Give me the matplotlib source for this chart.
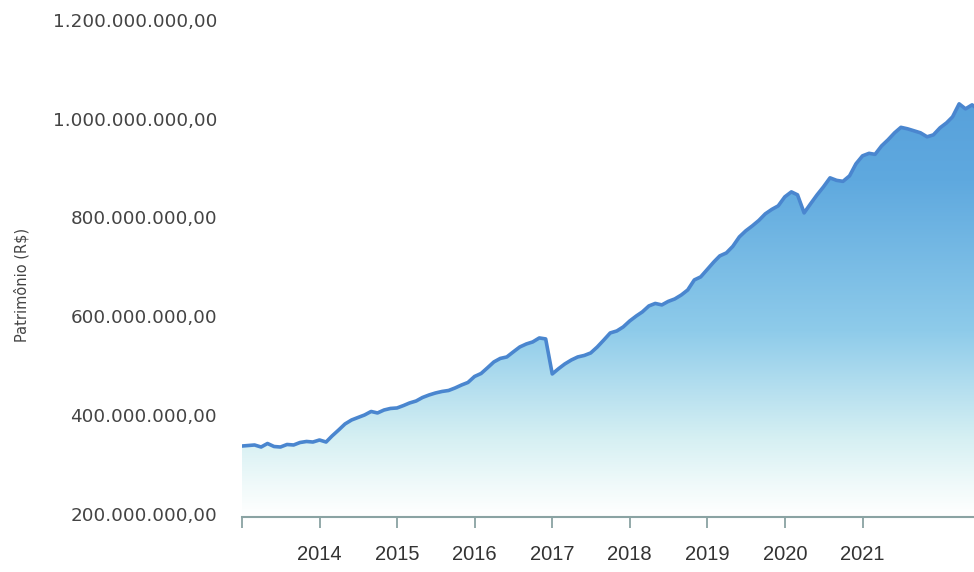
import matplotlib
matplotlib.use("Agg")
import matplotlib.pyplot as plt
import matplotlib.dates as mdates
from matplotlib.colors import LinearSegmentedColormap
from matplotlib.ticker import FuncFormatter
import numpy as np
import pandas as pd

# monthly patrimony, millions of R$, Jan 2013 onwards
months = pd.date_range("2013-01-01", periods=115, freq="MS")
patrimonio_mi = [
    337.6, 338.7, 339.7, 335.6, 342.7, 336.6, 335.6, 340.7, 339.7, 344.7, 346.8, 345.7,
    349.8, 345.7, 357.9, 370.0, 382.2, 390.3, 395.3, 400.4, 407.5, 404.5, 410.5, 413.6,
    414.6, 419.6, 424.7, 428.7, 435.8, 440.9, 444.9, 448.0, 450.0, 455.0, 461.1, 466.2,
    478.3, 484.4, 495.5, 507.7, 514.8, 517.8, 527.9, 538.0, 544.1, 548.2, 556.3, 554.3,
    483.4, 494.5, 503.6, 511.7, 517.8, 520.9, 525.9, 538.0, 552.2, 566.4, 570.4, 578.5,
    590.7, 600.8, 608.9, 621.0, 626.1, 623.1, 630.2, 635.2, 643.3, 653.4, 673.7, 679.8,
    694.9, 710.1, 722.3, 728.3, 741.5, 760.7, 772.9, 783.0, 794.1, 807.3, 816.4, 823.5,
    841.7, 851.8, 845.8, 809.3, 827.5, 845.8, 861.9, 880.2, 875.1, 873.1, 884.2, 908.5,
    924.7, 929.8, 927.7, 944.9, 957.1, 971.3, 982.4, 979.4, 975.3, 971.3, 963.2, 967.2,
    981.4, 991.5, 1003.6, 1029.9, 1019.8, 1027.9, 1017.8,
]
y_ticks = [200e6, 400e6, 600e6, 800e6, 1000e6, 1200e6]
year_ticks = [pd.Timestamp(f"{y}-01-01") for y in range(2013, 2022)]
year_labels = [""] + [str(y) for y in range(2014, 2022)]

values = np.array(patrimonio_mi) * 1e6
x = mdates.date2num(months)
y_min, y_max = 194e6, 1240e6

fig = plt.figure(figsize=(9.74, 5.72), dpi=100)
ax = fig.add_axes([242 / 974, 55 / 572, 732 / 974, 517 / 572])

# gradient fill clipped to the area under the curve
cmap = LinearSegmentedColormap.from_list("fill", [
    (0.0, "#ffffff"), (0.05, "#f3fbfb"), (0.15, "#d6f0f3"),
    (0.36, "#8ecbea"), (0.65, "#5fa9df"), (1.0, "#4e97d6"),
])
poly = ax.fill_between(x, values, y_min, color="none", lw=0)
grad = np.linspace(0, 1, 256).reshape(-1, 1)
x_left = mdates.date2num(pd.Timestamp("2013-01-01"))
x_right = mdates.date2num(pd.Timestamp("2022-06-10"))
im = ax.imshow(grad, cmap=cmap, aspect="auto", origin="lower",
               extent=[x_left, x[-1], y_min, y_max], zorder=1)
im.set_clip_path(poly.get_paths()[0], transform=ax.transData)

ax.plot(x, values, color="#4a86cf", lw=2.6, zorder=3, solid_joinstyle="round")

ax.set_xlim(x_left, x_right)
ax.set_ylim(y_min, y_max)

ax.set_yticks(y_ticks)
ax.yaxis.set_major_formatter(FuncFormatter(
    lambda v, _: f"{v:,.2f}".replace(",", "X").replace(".", ",").replace("X", ".")))
ax.tick_params(axis="y", length=0, pad=18, labelsize=13.2, labelcolor="#444444")
for lab in ax.get_yticklabels():
    lab.set_family("DejaVu Sans")

ax.set_xticks(mdates.date2num(year_ticks))
ax.set_xticklabels(year_labels)
ax.tick_params(axis="x", length=8, width=1.3, color="#8aa3a3", pad=12,
               labelsize=14.5, labelcolor="#333333")
for lab in ax.get_xticklabels():
    lab.set_family("Liberation Sans")

for side in ("top", "right", "left"):
    ax.spines[side].set_visible(False)
ax.spines["bottom"].set_color("#8aa3a3")
ax.spines["bottom"].set_linewidth(1.5)

fig.text(22 / 974, 1 - 285 / 572, "Patrimônio (R$)", rotation=90,
         ha="center", va="center", fontsize=10.5, color="#444444")

fig.savefig("out.png", dpi=100)
